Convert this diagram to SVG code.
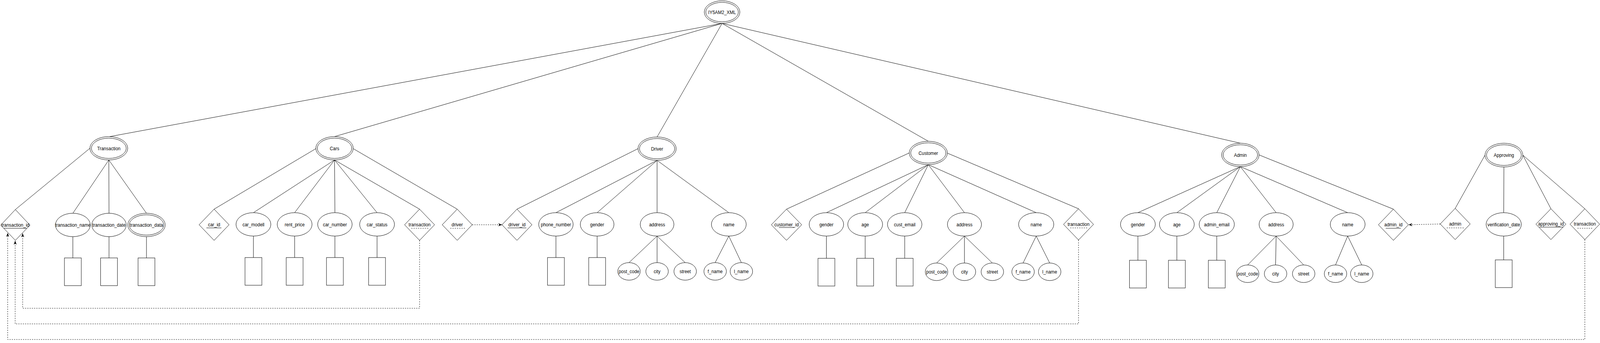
<svg xmlns="http://www.w3.org/2000/svg" width="4271" height="879" viewBox="0 0 4271 879" preserveAspectRatio="none">
<style>
svg{width:100vw;height:100vh}
.n ellipse,.n rect,.n polygon{fill:#fff;stroke:#000;stroke-width:1}
text{font-family:"Liberation Sans",Arial,Helvetica,sans-serif;font-size:12px;text-anchor:middle;dominant-baseline:central;fill:#000}
.c line,.c path{stroke:#000;stroke-width:1;fill:none}
.c .d{stroke-dasharray:3 3}
.u{stroke:#000;stroke-width:1}
.ud{stroke:#000;stroke-width:1;stroke-dasharray:3 3}
</style>
<defs>
<marker id="arr" viewBox="0 0 10 8" refX="10" refY="4" markerWidth="10" markerHeight="8" markerUnits="userSpaceOnUse" orient="auto"><path d="M0,0 L10,4 L0,8 L3,4 Z" fill="#000"/></marker>
</defs>
<rect x="0" y="0" width="4271" height="879" fill="#fff"/>
<g id="connectors" class="c">
<line x1="1927.5" y1="60" x2="293" y2="350"/>
<line x1="1927.5" y1="60" x2="893" y2="350"/>
<line x1="1927.5" y1="60" x2="1754" y2="351"/>
<line x1="1927.5" y1="60" x2="2478" y2="362"/>
<line x1="1927.5" y1="60" x2="3311" y2="367"/>
<line x1="240" y1="380" x2="41" y2="537"/>
<line x1="290.5" y1="410" x2="194.5" y2="546.5"/>
<line x1="290.5" y1="410" x2="291" y2="546.5"/>
<line x1="290.5" y1="410" x2="391" y2="546.5"/>
<line x1="194.5" y1="606.5" x2="194.5" y2="661"/>
<line x1="291" y1="606.5" x2="291" y2="661"/>
<line x1="391" y1="606.5" x2="391" y2="661"/>
<line x1="843" y1="381" x2="571.5" y2="536"/>
<line x1="893" y1="410" x2="676.5" y2="545"/>
<line x1="893" y1="410" x2="786.5" y2="545"/>
<line x1="893" y1="410" x2="894" y2="545"/>
<line x1="893" y1="410" x2="1006.5" y2="545"/>
<line x1="893" y1="410" x2="1120" y2="536"/>
<line x1="943" y1="381" x2="1220.5" y2="536"/>
<line x1="676.5" y1="605" x2="676.5" y2="660"/>
<line x1="786.5" y1="605" x2="786.5" y2="660"/>
<line x1="894" y1="605" x2="894" y2="660"/>
<line x1="1006.5" y1="605" x2="1006.5" y2="660"/>
<line class="d" x1="1260.5" y1="576" x2="1340" y2="576" marker-end="url(#arr)"/>
<path class="d" d="M1120,616 V790 H60.5 V598" marker-end="url(#arr)"/>
<line x1="1703" y1="381" x2="1380" y2="536"/>
<line x1="1754" y1="411" x2="1484" y2="545"/>
<line x1="1754" y1="411" x2="1594" y2="545"/>
<line x1="1754" y1="411" x2="1754" y2="545"/>
<line x1="1754" y1="411" x2="1945.5" y2="545"/>
<line x1="1484" y1="605" x2="1484" y2="660"/>
<line x1="1594" y1="605" x2="1594" y2="660"/>
<line x1="1754" y1="605" x2="1679" y2="673"/>
<line x1="1754" y1="605" x2="1754" y2="673"/>
<line x1="1754" y1="605" x2="1829" y2="673"/>
<line x1="1945.5" y1="605" x2="1909" y2="673"/>
<line x1="1945.5" y1="605" x2="1979" y2="673"/>
<line x1="2427" y1="392" x2="2099.5" y2="536"/>
<line x1="2478" y1="422" x2="2206" y2="545"/>
<line x1="2478" y1="422" x2="2309.5" y2="545"/>
<line x1="2478" y1="422" x2="2415" y2="545"/>
<line x1="2478" y1="422" x2="2574.5" y2="545"/>
<line x1="2478" y1="422" x2="2766" y2="545"/>
<line x1="2528" y1="392" x2="2879" y2="535"/>
<line x1="2206" y1="605" x2="2206" y2="662"/>
<line x1="2309.5" y1="605" x2="2309.5" y2="662"/>
<line x1="2415" y1="605" x2="2415" y2="662"/>
<line x1="2574.5" y1="605" x2="2500" y2="674"/>
<line x1="2574.5" y1="605" x2="2574.5" y2="674"/>
<line x1="2574.5" y1="605" x2="2649" y2="674"/>
<line x1="2766" y1="605" x2="2731" y2="674"/>
<line x1="2766" y1="605" x2="2802" y2="674"/>
<path class="d" d="M2879,615 V830 H40.5 V617" marker-end="url(#arr)"/>
<line x1="3311" y1="427" x2="3037.5" y2="545"/>
<line x1="3311" y1="427" x2="3141.5" y2="545"/>
<line x1="3311" y1="427" x2="3248" y2="545"/>
<line x1="3311" y1="427" x2="3406.5" y2="545"/>
<line x1="3311" y1="427" x2="3597.5" y2="545"/>
<line x1="3361" y1="397" x2="3719.5" y2="536"/>
<line x1="3037.5" y1="605" x2="3037.5" y2="667"/>
<line x1="3141.5" y1="605" x2="3141.5" y2="667"/>
<line x1="3248" y1="605" x2="3248" y2="667"/>
<line x1="3406.5" y1="605" x2="3330.5" y2="679"/>
<line x1="3406.5" y1="605" x2="3405" y2="679"/>
<line x1="3406.5" y1="605" x2="3480" y2="679"/>
<line x1="3597.5" y1="605" x2="3565" y2="679"/>
<line x1="3597.5" y1="605" x2="3635" y2="679"/>
<line class="d" x1="3844.5" y1="574" x2="3760" y2="576" marker-end="url(#arr)"/>
<line x1="3964" y1="397.5" x2="3884.5" y2="534"/>
<line x1="4014.5" y1="428" x2="4014" y2="545"/>
<line x1="4065" y1="397.5" x2="4140" y2="535"/>
<line x1="4065" y1="397.5" x2="4230.5" y2="535"/>
<line x1="4014" y1="605" x2="4014" y2="666"/>
<path class="d" d="M4230.5,614 V870 H20.5 V597" marker-end="url(#arr)"/>
</g>
<g id="root" class="n"><ellipse cx="1927.5" cy="31" rx="47.5" ry="29"/><ellipse cx="1927.5" cy="31" rx="43.5" ry="25"/><text x="1927.5" y="31">IY5AM2_XML</text></g>
<g id="transaction" class="n"><ellipse cx="290.5" cy="380" rx="50.5" ry="30"/><ellipse cx="290.5" cy="380" rx="46.5" ry="26"/><text x="290.5" y="380">Transaction</text></g>
<g id="transaction_id" class="n"><polygon points="41,537 80,577 41,616 2,577"/><text x="41" y="576">transaction_id</text><line class="u" x1="10" y1="585" x2="71" y2="585"/></g>
<g id="transaction_name" class="n"><ellipse cx="194.5" cy="576.5" rx="46.5" ry="30"/><text x="194.5" y="576">transaction_name</text></g>
<g id="transaction_date" class="n"><ellipse cx="291" cy="576.5" rx="46" ry="30"/><text x="291" y="576">transaction_date</text></g>
<g id="transaction_data" class="n"><ellipse cx="391" cy="576.5" rx="50" ry="30"/><ellipse cx="391" cy="576.5" rx="46" ry="26"/><text x="391" y="576">transaction_data</text></g>
<g id="rect_transaction_name" class="n"><rect x="172" y="661" width="45" height="71"/></g>
<g id="rect_transaction_date" class="n"><rect x="268.5" y="661" width="45" height="71"/></g>
<g id="rect_transaction_data" class="n"><rect x="368.5" y="661" width="45" height="71"/></g>
<g id="cars" class="n"><ellipse cx="893" cy="380" rx="50" ry="30"/><ellipse cx="893" cy="380" rx="46" ry="26"/><text x="893" y="380">Cars</text></g>
<g id="car_id" class="n"><polygon points="571.5,536 611.5,576 571.5,616 531.5,576"/><text x="571.5" y="575">car_id</text><line class="u" x1="551" y1="584" x2="591" y2="584"/></g>
<g id="car_modell" class="n"><ellipse cx="676.5" cy="575" rx="46.5" ry="30"/><text x="676.5" y="575">car_modell</text></g>
<g id="rent_price" class="n"><ellipse cx="786.5" cy="575" rx="46.5" ry="30"/><text x="786.5" y="575">rent_price</text></g>
<g id="car_number" class="n"><ellipse cx="894" cy="575" rx="46" ry="30"/><text x="894" y="575">car_number</text></g>
<g id="car_status" class="n"><ellipse cx="1006.5" cy="575" rx="46.5" ry="30"/><text x="1006.5" y="575">car_status</text></g>
<g id="cars_transaction" class="n"><polygon points="1120,536 1160,576 1120,616 1080,576"/><text x="1120" y="575">transaction</text><line class="ud" x1="1098" y1="585" x2="1143" y2="585"/></g>
<g id="cars_driver" class="n"><polygon points="1220.5,536 1260.5,576 1220.5,616 1180.5,576"/><text x="1220.5" y="575">driver</text><line class="ud" x1="1202" y1="585" x2="1241" y2="585"/></g>
<g id="rect_car_modell" class="n"><rect x="654" y="660" width="45" height="71"/></g>
<g id="rect_rent_price" class="n"><rect x="764" y="660" width="45" height="71"/></g>
<g id="rect_car_number" class="n"><rect x="871.5" y="660" width="45" height="71"/></g>
<g id="rect_car_status" class="n"><rect x="984" y="660" width="45" height="71"/></g>
<g id="driver" class="n"><ellipse cx="1754" cy="381" rx="51" ry="30"/><ellipse cx="1754" cy="381" rx="47" ry="26"/><text x="1754" y="381">Driver</text></g>
<g id="driver_id" class="n"><polygon points="1380,536 1420,576 1380,616 1340,576"/><text x="1380" y="575">driver_id</text><line class="u" x1="1355" y1="584" x2="1405" y2="584"/></g>
<g id="driver_phone_number" class="n"><ellipse cx="1484" cy="575" rx="46" ry="30"/><text x="1484" y="575">phone_number</text></g>
<g id="driver_gender" class="n"><ellipse cx="1594" cy="575" rx="45" ry="30"/><text x="1594" y="575">gender</text></g>
<g id="driver_address" class="n"><ellipse cx="1754" cy="575" rx="45" ry="30"/><text x="1754" y="575">address</text></g>
<g id="driver_name" class="n"><ellipse cx="1945.5" cy="575" rx="46.5" ry="30"/><text x="1945.5" y="575">name</text></g>
<g id="rect_driver_phone" class="n"><rect x="1461.5" y="660" width="45" height="71"/></g>
<g id="rect_driver_gender" class="n"><rect x="1571.5" y="660" width="45" height="71"/></g>
<g id="driver_post_code" class="n"><ellipse cx="1679" cy="695.5" rx="30" ry="22.5"/><text x="1679" y="695.5">post_code</text></g>
<g id="driver_city" class="n"><ellipse cx="1754" cy="695.5" rx="30" ry="22.5"/><text x="1754" y="695.5">city</text></g>
<g id="driver_street" class="n"><ellipse cx="1829" cy="695.5" rx="30" ry="22.5"/><text x="1829" y="695.5">street</text></g>
<g id="driver_f_name" class="n"><ellipse cx="1909" cy="695.5" rx="30" ry="22.5"/><text x="1909" y="695.5">f_name</text></g>
<g id="driver_l_name" class="n"><ellipse cx="1979" cy="695.5" rx="30" ry="22.5"/><text x="1979" y="695.5">l_name</text></g>
<g id="customer" class="n"><ellipse cx="2478" cy="392" rx="51" ry="30"/><ellipse cx="2478" cy="392" rx="47" ry="26"/><text x="2478" y="392">Customer</text></g>
<g id="customer_id" class="n"><polygon points="2099.5,536 2140,576 2099.5,616 2059,576"/><text x="2099.5" y="575">customer_id</text><line class="u" x1="2079" y1="583" x2="2120" y2="583"/></g>
<g id="customer_gender" class="n"><ellipse cx="2206" cy="575" rx="46" ry="30"/><text x="2206" y="575">gender</text></g>
<g id="customer_age" class="n"><ellipse cx="2309.5" cy="575" rx="46.5" ry="30"/><text x="2309.5" y="575">age</text></g>
<g id="customer_cust_email" class="n"><ellipse cx="2415" cy="575" rx="46" ry="30"/><text x="2415" y="575">cust_email</text></g>
<g id="customer_address" class="n"><ellipse cx="2574.5" cy="575" rx="45.5" ry="30"/><text x="2574.5" y="575">address</text></g>
<g id="customer_name" class="n"><ellipse cx="2766" cy="575" rx="47" ry="30"/><text x="2766" y="575">name</text></g>
<g id="customer_transaction" class="n"><polygon points="2879,535 2919,575 2879,615 2839,575"/><text x="2879" y="574">transaction</text><line class="ud" x1="2857" y1="584" x2="2903" y2="584"/></g>
<g id="rect_customer_gender" class="n"><rect x="2183.5" y="662" width="45" height="71"/></g>
<g id="rect_customer_age" class="n"><rect x="2287" y="662" width="45" height="71"/></g>
<g id="rect_customer_email" class="n"><rect x="2392.5" y="662" width="45" height="71"/></g>
<g id="customer_post_code" class="n"><ellipse cx="2500" cy="696.5" rx="30" ry="22.5"/><text x="2500" y="696.5">post_code</text></g>
<g id="customer_city" class="n"><ellipse cx="2574.5" cy="696.5" rx="30" ry="22.5"/><text x="2574.5" y="696.5">city</text></g>
<g id="customer_street" class="n"><ellipse cx="2649" cy="696.5" rx="30" ry="22.5"/><text x="2649" y="696.5">street</text></g>
<g id="customer_f_name" class="n"><ellipse cx="2731" cy="696.5" rx="30" ry="22.5"/><text x="2731" y="696.5">f_name</text></g>
<g id="customer_l_name" class="n"><ellipse cx="2802" cy="696.5" rx="30" ry="22.5"/><text x="2802" y="696.5">l_name</text></g>
<g id="admin" class="n"><ellipse cx="3311" cy="397" rx="50" ry="30"/><ellipse cx="3311" cy="397" rx="46" ry="26"/><text x="3311" y="397">Admin</text></g>
<g id="admin_gender" class="n"><ellipse cx="3037.5" cy="575" rx="46.5" ry="30"/><text x="3037.5" y="575">gender</text></g>
<g id="admin_age" class="n"><ellipse cx="3141.5" cy="575" rx="46.5" ry="30"/><text x="3141.5" y="575">age</text></g>
<g id="admin_email" class="n"><ellipse cx="3248" cy="575" rx="47" ry="30"/><text x="3248" y="575">admin_email</text></g>
<g id="admin_address" class="n"><ellipse cx="3406.5" cy="575" rx="45.5" ry="30"/><text x="3406.5" y="575">address</text></g>
<g id="admin_name" class="n"><ellipse cx="3597.5" cy="575" rx="46.5" ry="30"/><text x="3597.5" y="575">name</text></g>
<g id="admin_id" class="n"><polygon points="3719.5,536 3759.5,576 3719.5,616 3679.5,576"/><text x="3719.5" y="575">admin_id</text><line class="u" x1="3699" y1="585" x2="3739.5" y2="585"/></g>
<g id="rect_admin_gender" class="n"><rect x="3015" y="667" width="45" height="71"/></g>
<g id="rect_admin_age" class="n"><rect x="3119" y="667" width="45" height="71"/></g>
<g id="rect_admin_email" class="n"><rect x="3225.5" y="667" width="45" height="71"/></g>
<g id="admin_post_code" class="n"><ellipse cx="3330.5" cy="701.5" rx="30" ry="22.5"/><text x="3330.5" y="701.5">post_code</text></g>
<g id="admin_city" class="n"><ellipse cx="3405" cy="701.5" rx="30" ry="22.5"/><text x="3405" y="701.5">city</text></g>
<g id="admin_street" class="n"><ellipse cx="3480" cy="701.5" rx="30" ry="22.5"/><text x="3480" y="701.5">street</text></g>
<g id="admin_f_name" class="n"><ellipse cx="3565" cy="701.5" rx="30" ry="22.5"/><text x="3565" y="701.5">f_name</text></g>
<g id="admin_l_name" class="n"><ellipse cx="3635" cy="701.5" rx="30" ry="22.5"/><text x="3635" y="701.5">l_name</text></g>
<g id="approving" class="n"><ellipse cx="4014.5" cy="397.5" rx="50.5" ry="30.5"/><ellipse cx="4014.5" cy="397.5" rx="46.5" ry="26.5"/><text x="4014.5" y="397">Approving</text></g>
<g id="approving_admin" class="n"><polygon points="3884.5,534 3924.5,574 3884.5,614 3844.5,574"/><text x="3884.5" y="573">admin</text><line class="ud" x1="3862" y1="584" x2="3908" y2="584"/></g>
<g id="verification_date" class="n"><ellipse cx="4014" cy="575" rx="47" ry="30"/><text x="4014" y="575">verification_date</text></g>
<g id="approving_id" class="n"><polygon points="4140,535 4180,574.5 4140,614 4100,574.5"/><text x="4140" y="573.5">approving_id</text><line class="u" x1="4109" y1="582" x2="4173" y2="582"/></g>
<g id="approving_transaction" class="n"><polygon points="4230.5,535 4270,574.5 4230.5,614 4191,574.5"/><text x="4230.5" y="573.5">transaction</text><line class="ud" x1="4211" y1="585" x2="4250" y2="585"/></g>
<g id="rect_verification_date" class="n"><rect x="3991.5" y="666" width="45" height="71"/></g>
</svg>
